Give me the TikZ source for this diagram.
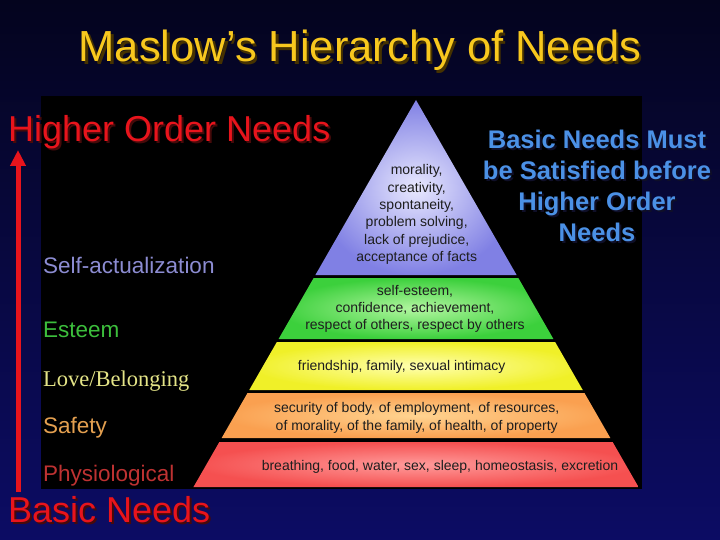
\documentclass[tikz,border=0pt]{standalone}
\usepackage[RGB]{xcolor}
\usepackage{fontspec}
\setmainfont{Liberation Sans}
\newfontfamily\timesface{Liberation Serif}
\usetikzlibrary{arrows.meta}
\definecolor{bgtop}{RGB}{4,4,30}
\definecolor{bgbottom}{RGB}{12,12,100}
\definecolor{gold}{RGB}{248,200,30}
\definecolor{goldshade}{RGB}{70,50,0}
\definecolor{needred}{RGB}{232,20,28}
\definecolor{redshade}{RGB}{70,10,10}
\definecolor{mustblue}{RGB}{75,145,230}
\definecolor{blueshade}{RGB}{15,15,40}
\definecolor{pyrtext}{RGB}{30,30,30}
\definecolor{selfin}{RGB}{232,232,254}
\definecolor{selfout}{RGB}{128,128,228}
\definecolor{esteemin}{RGB}{178,246,160}
\definecolor{esteemout}{RGB}{60,208,60}
\definecolor{lovein}{RGB}{255,255,175}
\definecolor{loveout}{RGB}{240,240,40}
\definecolor{safein}{RGB}{255,212,145}
\definecolor{safeout}{RGB}{250,160,80}
\definecolor{physin}{RGB}{255,155,155}
\definecolor{physout}{RGB}{245,80,80}
\definecolor{selfcol}{RGB}{140,140,210}
\definecolor{esteemcol}{RGB}{60,190,60}
\definecolor{lovecol}{RGB}{228,228,135}
\definecolor{safecol}{RGB}{228,160,80}
\definecolor{physcol}{RGB}{190,50,50}
% one slab of the pyramid: inner colour, outer colour, top y, bottom y
\newcommand{\slab}[4]{
  \shade[inner color=#1,outer color=#2] ({416-0.575*(#3-100)},#3)--({416+0.575*(#3-100)},#3)
    --({416+0.575*(#4-100)},#4)--({416-0.575*(#4-100)},#4)--cycle;
}

\begin{document}
\begin{tikzpicture}[x=1pt,y=-1pt,
  needtext/.style={inner sep=0pt,anchor=base west,font=\fontsize{22.5}{26}\selectfont},
  leveltext/.style={align=center,inner sep=0pt,text=pyrtext,font=\fontsize{14}{17.3}\selectfont},
  bigred/.style={inner sep=0pt,anchor=base west,font=\fontsize{36}{40}\selectfont},
  titletext/.style={inner sep=0pt,anchor=base,font=\fontsize{43.5}{50}\selectfont},
  musttext/.style={inner sep=0pt,align=center,font=\fontsize{25.5}{31}\selectfont\bfseries}]
\useasboundingbox (0,0) rectangle (720,540);
\shade[top color=bgtop,bottom color=bgbottom] (0,0) rectangle (720,540);
\fill[black] (41,96) rectangle (642,489);
\slab{selfin}{selfout}{100}{275}
\slab{esteemin}{esteemout}{278}{339}
\slab{lovein}{loveout}{342}{390}
\slab{safein}{safeout}{393}{438}
\slab{physin}{physout}{442}{487}
\node[leveltext] (selfpyr) at (416.7,214.5) {morality,\\creativity,\\spontaneity,\\problem solving,\\lack of prejudice,\\acceptance of facts};
\node[leveltext] (esteempyr) at (415,309) {self-esteem,\\confidence, achievement,\\respect of others, respect by others};
\node[leveltext] (lovepyr) at (401.7,367) {friendship, family, sexual intimacy};
\node[leveltext] (safepyr) at (416.7,418) {security of body, of employment, of resources,\\of morality, of the family, of health, of property};
\node[leveltext] (physpyr) at (440,467) {breathing, food, water, sex, sleep, homeostasis, excretion};
\node[needtext,text=selfcol] (selflabel) at (43,273) {Self-actualization};
\node[needtext,text=esteemcol] (esteemlabel) at (43,337) {Esteem};
\node[needtext,text=lovecol,font=\fontsize{22.5}{26}\timesface] (lovelabel) at (43,386) {Love/Belonging};
\node[needtext,text=safecol] (safelabel) at (43,433) {Safety};
\node[needtext,text=physcol] (physlabel) at (43,481) {Physiological};
\coordinate (arrowfoot) at (18,492);
\coordinate (arrowtip) at (18,150);
\draw[line width=5pt,draw=needred,-{Triangle[width=15pt,length=16pt]}] (arrowfoot)--(arrowtip);
\node[bigred,text=redshade] (highershade) at (10,143.5) {Higher Order Needs};
\node[bigred,text=needred] (higher) at (8,141.5) {Higher Order Needs};
\node[bigred,text=redshade] (basicshade) at (10,524) {Basic Needs};
\node[bigred,text=needred] (basic) at (8,522) {Basic Needs};
\node[titletext,text=goldshade] (titleshade) at (362.5,64.5) {Maslow’s Hierarchy of Needs};
\node[titletext,text=gold] (title) at (360,62) {Maslow’s Hierarchy of Needs};
\node[musttext,text=blueshade] (mustshade) at (599,188) {Basic Needs Must\\be Satisfied before\\Higher Order\\Needs};
\node[musttext,text=mustblue] (must) at (597,186) {Basic Needs Must\\be Satisfied before\\Higher Order\\Needs};
\end{tikzpicture}
\end{document}
